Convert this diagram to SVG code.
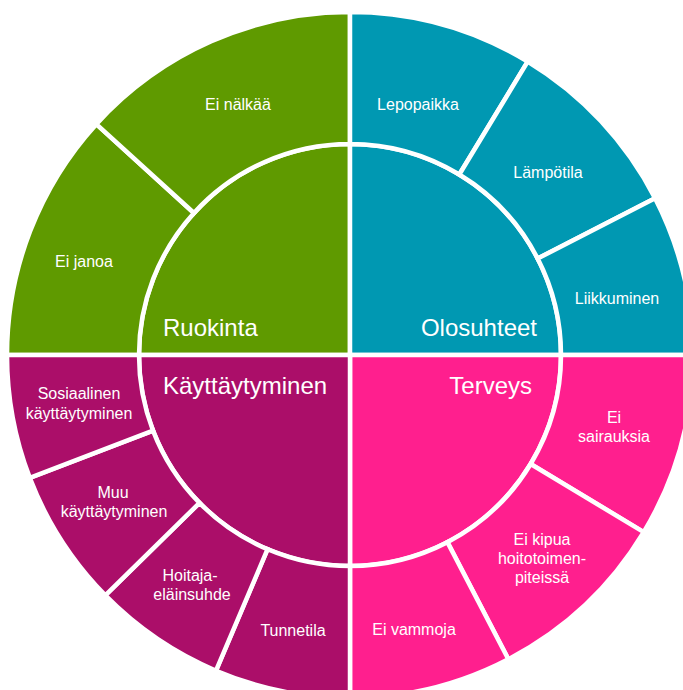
<svg xmlns="http://www.w3.org/2000/svg" width="683" height="690" viewBox="0 0 683 690">
  <style>
    .seg { stroke: #ffffff; stroke-width: 4.5; }
    .food { fill: #5f9a00; }
    .env { fill: #0098b2; }
    .health { fill: #ff1f8e; }
    .behav { fill: #ab0e69; }
    text { font-family: "Liberation Sans", Arial, sans-serif; fill: #ffffff; }
    .sub { font-size: 16px; text-anchor: middle; }
    .main { font-size: 24px; }
  </style>
  <rect width="683" height="690" fill="#ffffff"/>

  <!-- Centre quarters: the four welfare areas -->
  <g id="ruokinta">
    <path class="seg food" d="M350,355 L139,355 A211,211 0 0 1 350,144 Z"/>
    <text class="main" x="163" y="336">Ruokinta</text>
  </g>
  <g id="olosuhteet">
    <path class="seg env" d="M350,355 L350,144 A211,211 0 0 1 561,355 Z"/>
    <text class="main" x="537" y="336" text-anchor="end">Olosuhteet</text>
  </g>
  <g id="terveys">
    <path class="seg health" d="M350,355 L561,355 A211,211 0 0 1 350,566 Z"/>
    <text class="main" x="532" y="394" text-anchor="end">Terveys</text>
  </g>
  <g id="kayttaytyminen">
    <path class="seg behav" d="M350,355 L350,566 A211,211 0 0 1 139,355 Z"/>
    <text class="main" x="163" y="394">Käyttäytyminen</text>
  </g>

  <!-- Outer ring: criteria of each area -->
  <g id="ei-janoa">
    <path class="seg food" d="M7,355 A343,343 0 0 1 96.32,124.16 L193.94,213 A211,211 0 0 0 139,355 Z"/>
    <text class="sub" x="84" y="267">Ei janoa</text>
  </g>
  <g id="ei-nalkaa">
    <path class="seg food" d="M96.32,124.16 A343,343 0 0 1 350,12 L350,144 A211,211 0 0 0 193.94,213 Z"/>
    <text class="sub" x="238" y="110">Ei nälkää</text>
  </g>
  <g id="lepopaikka">
    <path class="seg env" d="M350,12 A343,343 0 0 1 527.67,61.6 L459.3,174.51 A211,211 0 0 0 350,144 Z"/>
    <text class="sub" x="418" y="110">Lepopaikka</text>
  </g>
  <g id="lampotila">
    <path class="seg env" d="M527.67,61.6 A343,343 0 0 1 655.06,198.21 L537.66,258.55 A211,211 0 0 0 459.3,174.51 Z"/>
    <text class="sub" x="548" y="178">Lämpötila</text>
  </g>
  <g id="liikkuminen">
    <path class="seg env" d="M655.06,198.21 A343,343 0 0 1 693,355 L561,355 A211,211 0 0 0 537.66,258.55 Z"/>
    <text class="sub" x="617" y="304">Liikkuminen</text>
  </g>
  <g id="ei-sairauksia">
    <path class="seg health" d="M693,355 A343,343 0 0 1 643.71,532.16 L530.68,463.98 A211,211 0 0 0 561,355 Z"/>
    <text class="sub" x="614" y="423">Ei</text>
    <text class="sub" x="614" y="442">sairauksia</text>
  </g>
  <g id="ei-kipua">
    <path class="seg health" d="M643.71,532.16 A343,343 0 0 1 508.36,659.24 L447.42,542.16 A211,211 0 0 0 530.68,463.98 Z"/>
    <text class="sub" x="542" y="545">Ei kipua</text>
    <text class="sub" x="542" y="564">hoitotoimen-</text>
    <text class="sub" x="542" y="583">piteissä</text>
  </g>
  <g id="ei-vammoja">
    <path class="seg health" d="M508.36,659.24 A343,343 0 0 1 350,698 L350,566 A211,211 0 0 0 447.42,542.16 Z"/>
    <text class="sub" x="414" y="635">Ei vammoja</text>
  </g>
  <g id="tunnetila">
    <path class="seg behav" d="M350,698 A343,343 0 0 1 215.99,670.73 L267.56,549.23 A211,211 0 0 0 350,566 Z"/>
    <text class="sub" x="293" y="636">Tunnetila</text>
  </g>
  <g id="hoitaja-elainsuhde">
    <path class="seg behav" d="M215.99,670.73 A343,343 0 0 1 105.34,595.41 L199.49,502.89 A211,211 0 0 0 267.56,549.23 Z"/>
    <text class="sub" x="190" y="581">Hoitaja-</text>
    <text class="sub" x="192" y="600">eläinsuhde</text>
  </g>
  <g id="muu-kayttaytyminen">
    <path class="seg behav" d="M105.34,595.41 A343,343 0 0 1 29.78,477.93 L153.01,430.62 A211,211 0 0 0 199.49,502.89 Z"/>
    <text class="sub" x="113" y="498">Muu</text>
    <text class="sub" x="114" y="517">käyttäytyminen</text>
  </g>
  <g id="sosiaalinen-kayttaytyminen">
    <path class="seg behav" d="M29.78,477.93 A343,343 0 0 1 7,355 L139,355 A211,211 0 0 0 153.01,430.62 Z"/>
    <text class="sub" x="79" y="399">Sosiaalinen</text>
    <text class="sub" x="79" y="419">käyttäytyminen</text>
  </g>

  <!-- No connectors in this diagram -->
  <g id="connectors"/>
</svg>
